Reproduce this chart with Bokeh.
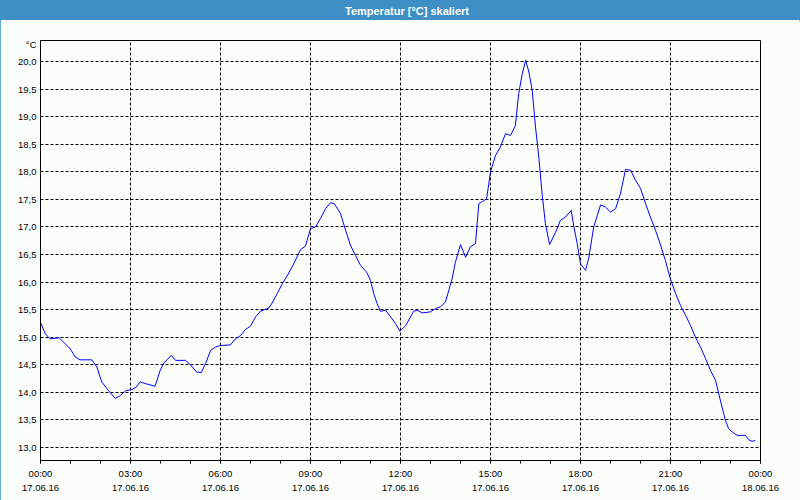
from bokeh.plotting import figure
from bokeh.models import Range1d, FixedTicker
from bokeh.layouts import column
from bokeh.embed import file_html
from bokeh.resources import INLINE
from bokeh.core.properties import value

title_text = "Temperatur [°C] skaliert"
unit_label = "°C"

hours = [0.0, 0.16, 0.32, 0.62, 0.77, 0.99, 1.16, 1.32, 1.71, 1.88,
         2.04, 2.27, 2.49, 2.66, 2.84, 3.04, 3.18, 3.32, 3.49, 3.82,
         3.99, 4.11, 4.36, 4.5, 4.83, 5.0, 5.2, 5.36, 5.5, 5.67,
         5.83, 6.0, 6.33, 6.5, 6.67, 6.83, 7.0, 7.17, 7.33, 7.61,
         7.72, 7.89, 8.06, 8.22, 8.44, 8.67, 8.83, 9.0, 9.17, 9.33,
         9.5, 9.67, 9.8, 10.0, 10.17, 10.33, 10.5, 10.67, 10.87, 11.0,
         11.11, 11.22, 11.33, 11.5, 11.67, 11.83, 11.98, 12.17, 12.44, 12.56,
         12.72, 13.0, 13.17, 13.33, 13.5, 13.61, 13.72, 13.83, 14.0, 14.17,
         14.33, 14.5, 14.61, 14.73, 14.87, 15.0, 15.17, 15.33, 15.5, 15.67,
         15.83, 15.94, 16.06, 16.17, 16.28, 16.39, 16.5, 16.61, 16.72, 16.83,
         16.97, 17.17, 17.33, 17.5, 17.69, 17.78, 17.89, 18.0, 18.17, 18.28,
         18.44, 18.56, 18.67, 18.83, 19.0, 19.17, 19.33, 19.5, 19.67, 19.83,
         20.0, 20.17, 20.33, 20.5, 20.67, 20.83, 21.0, 21.17, 21.33, 21.5,
         21.67, 21.83, 22.0, 22.17, 22.33, 22.5, 22.61, 22.72, 22.83, 22.94,
         23.06, 23.22, 23.5, 23.61, 23.72, 23.83]

temps = [15.27, 15.06, 14.97, 14.99, 14.91, 14.79, 14.64, 14.59, 14.59, 14.46,
         14.19, 14.03, 13.89, 13.94, 14.03, 14.05, 14.09, 14.19, 14.16, 14.11,
         14.40, 14.53, 14.67, 14.58, 14.58, 14.50, 14.37, 14.36, 14.52, 14.76,
         14.82, 14.85, 14.86, 14.97, 15.03, 15.14, 15.20, 15.37, 15.47, 15.53,
         15.62, 15.79, 15.97, 16.11, 16.33, 16.59, 16.65, 16.97, 17.00, 17.15,
         17.33, 17.44, 17.42, 17.24, 16.94, 16.67, 16.48, 16.30, 16.18, 16.03,
         15.79, 15.61, 15.47, 15.49, 15.37, 15.25, 15.11, 15.21, 15.47, 15.49,
         15.44, 15.46, 15.52, 15.55, 15.64, 15.85, 16.06, 16.36, 16.68, 16.45,
         16.64, 16.70, 17.42, 17.46, 17.51, 18.00, 18.30, 18.45, 18.69, 18.66,
         18.84, 19.42, 19.78, 20.02, 19.81, 19.48, 18.81, 18.27, 17.60, 17.06,
         16.68, 16.90, 17.12, 17.18, 17.30, 17.00, 16.70, 16.33, 16.21, 16.45,
         17.00, 17.21, 17.40, 17.36, 17.27, 17.33, 17.60, 18.04, 18.03, 17.85,
         17.70, 17.42, 17.18, 16.94, 16.67, 16.39, 16.05, 15.79, 15.58, 15.40,
         15.21, 15.00, 14.82, 14.61, 14.40, 14.22, 13.97, 13.73, 13.49, 13.34,
         13.28, 13.22, 13.22, 13.14, 13.11, 13.13]

x_ticks = [0, 3, 6, 9, 12, 15, 18, 21, 24]
x_minor_ticks = list(range(0, 25))
x_tick_labels = ["00:00\n17.06.16", "03:00\n17.06.16", "06:00\n17.06.16",
                 "09:00\n17.06.16", "12:00\n17.06.16", "15:00\n17.06.16",
                 "18:00\n17.06.16", "21:00\n17.06.16", "00:00\n18.06.16"]
y_ticks = [13.0, 13.5, 14.0, 14.5, 15.0, 15.5, 16.0, 16.5, 17.0, 17.5,
           18.0, 18.5, 19.0, 19.5, 20.0]
y_tick_labels = ["13,0", "13,5", "14,0", "14,5", "15,0", "15,5", "16,0", "16,5",
                 "17,0", "17,5", "18,0", "18,5", "19,0", "19,5", "20,0"]
unit_pos = 20.30  # where the unit text sits on the value axis

BLUE = "#3d8fc6"
BG = "#fbfdfb"
FONT = "Liberation Sans"

# title bar
head = figure(width=800, height=20, x_range=Range1d(0, 1), y_range=Range1d(0, 1),
              toolbar_location=None, output_backend="svg", min_border=0,
              x_axis_type=None, y_axis_type=None)
head.background_fill_color = BLUE
head.border_fill_color = BLUE
head.outline_line_color = BLUE
head.outline_line_width = 3
head.text(x=[0.509], y=[0.5], text=[title_text], text_color="white",
          text_font=value(FONT), text_font_style="bold", text_font_size="11px",
          text_align="center", text_baseline="middle")

# main chart
p = figure(width=800, height=480, x_range=Range1d(0, 24), y_range=Range1d(12.764, 20.381),
           toolbar_location=None, output_backend="svg",
           min_border_left=40, min_border_right=40, min_border_top=20, min_border_bottom=40)
p.background_fill_color = BG
p.border_fill_color = BG
p.outline_line_color = "black"
p.outline_line_width = 1

xa = p.xaxis[0]
xa.ticker = FixedTicker(ticks=x_ticks, minor_ticks=x_minor_ticks)
xa.major_label_overrides = dict(zip(x_ticks, x_tick_labels))
xa.major_tick_out = 3
xa.major_tick_in = 0
xa.minor_tick_out = 3
xa.minor_tick_in = 0
xa.major_label_standoff = 4
xa.axis_line_color = "black"
xa.major_tick_line_color = "black"
xa.minor_tick_line_color = "black"
xa.major_label_text_font = FONT
xa.major_label_text_font_size = "9.5px"
xa.major_label_text_color = "black"
xa.major_label_text_line_height = 1.36

ya = p.yaxis[0]
ya.ticker = FixedTicker(ticks=y_ticks + [unit_pos], minor_ticks=[])
ya.major_label_overrides = dict(zip(y_ticks + [unit_pos], y_tick_labels + [unit_label]))
ya.major_tick_out = 0
ya.major_tick_in = 0
ya.minor_tick_out = 0
ya.minor_tick_in = 0
ya.major_label_standoff = 4
ya.axis_line_color = "black"
ya.major_label_text_font = FONT
ya.major_label_text_font_size = "9.5px"
ya.major_label_text_color = "black"

p.xgrid.grid_line_color = "black"
p.xgrid.grid_line_dash = "3 2"
p.ygrid.ticker = FixedTicker(ticks=y_ticks, minor_ticks=[])
p.ygrid.grid_line_color = "black"
p.ygrid.grid_line_dash = "3 2"

p.line(hours, temps, line_color="#0000ff", line_width=1)

layout = column(head, p, spacing=0,
                styles={"outline": "1px solid " + BLUE, "outline-offset": "-1px"})

open("out.html", "w").write(file_html(layout, INLINE))
